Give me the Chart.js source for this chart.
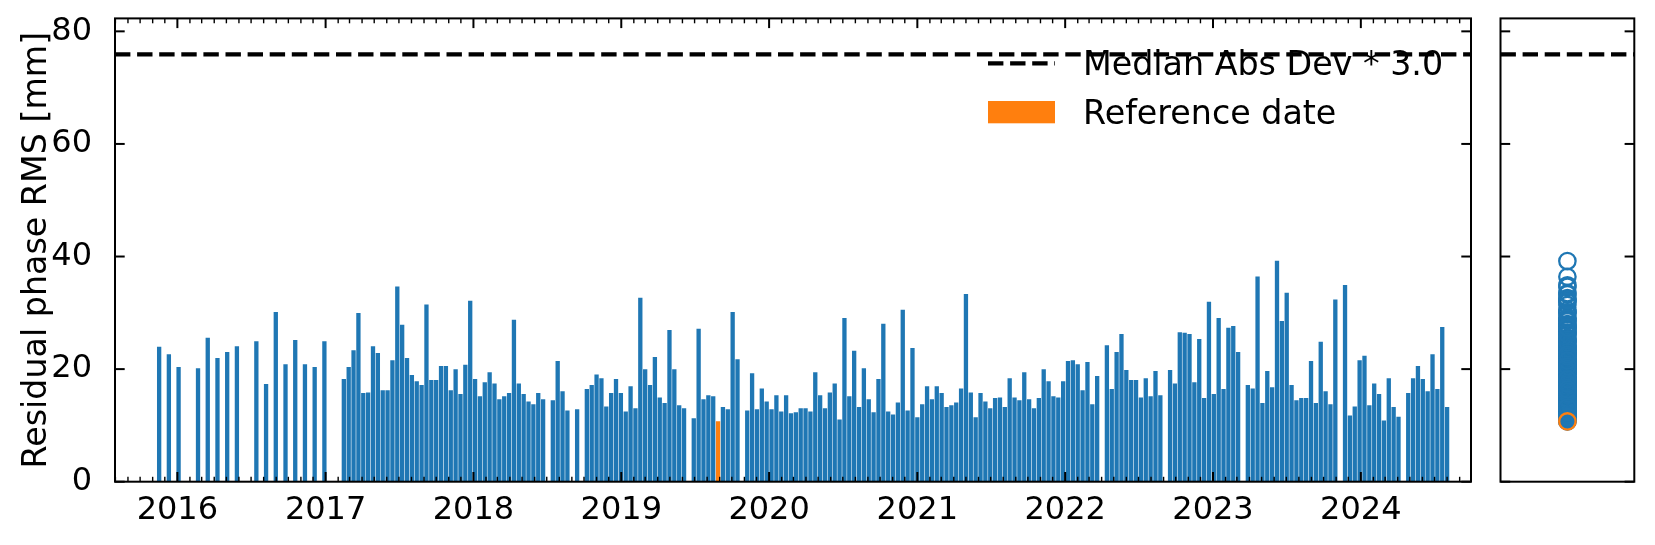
<!DOCTYPE html>
<html>
<head>
<meta charset="utf-8">
<title>Residual phase RMS</title>
<script src="https://cdn.jsdelivr.net/npm/chart.js@4.4.1/dist/chart.umd.min.js"></script>
<style>
  html, body { margin: 0; padding: 0; background: #ffffff; }
  #wrap { position: relative; width: 1655px; height: 545px; }
  #mainBox { position: absolute; left: 0; top: 0; width: 1490px; height: 545px; }
  #sideBox { position: absolute; left: 1490px; top: 0; width: 165px; height: 545px; }
</style>
</head>
<body>
<div id="wrap">
  <div id="mainBox"><canvas id="mainChart"></canvas></div>
  <div id="sideBox"><canvas id="sideChart"></canvas></div>
</div>
<script>
// acquisition dates and residual phase RMS [mm]
const dates = [
    '2015-11-17', '2015-12-11',
    '2016-01-04', '2016-02-21', '2016-03-16', '2016-04-09', '2016-05-03', '2016-05-27', '2016-07-14', '2016-08-07',
    '2016-08-31', '2016-09-24', '2016-10-18', '2016-11-11', '2016-12-05', '2016-12-29',
    '2017-02-15', '2017-02-27', '2017-03-11', '2017-03-23', '2017-04-04', '2017-04-16', '2017-04-28', '2017-05-10',
    '2017-05-22', '2017-06-03', '2017-06-15', '2017-06-27', '2017-07-09', '2017-07-21', '2017-08-02', '2017-08-14',
    '2017-08-26', '2017-09-07', '2017-09-19', '2017-10-01', '2017-10-13', '2017-10-25', '2017-11-06', '2017-11-18',
    '2017-11-30', '2017-12-12', '2017-12-24',
    '2018-01-05', '2018-01-17', '2018-01-29', '2018-02-10', '2018-02-22', '2018-03-06', '2018-03-18', '2018-03-30',
    '2018-04-11', '2018-04-23', '2018-05-05', '2018-05-17', '2018-05-29', '2018-06-10', '2018-06-22', '2018-07-16',
    '2018-07-28', '2018-08-09', '2018-08-21', '2018-09-14', '2018-10-08', '2018-10-20', '2018-11-01', '2018-11-13',
    '2018-11-25', '2018-12-07', '2018-12-19', '2018-12-31',
    '2019-01-12', '2019-01-24', '2019-02-05', '2019-02-17', '2019-03-01', '2019-03-13', '2019-03-25', '2019-04-06',
    '2019-04-18', '2019-04-30', '2019-05-12', '2019-05-24', '2019-06-05', '2019-06-29', '2019-07-11', '2019-07-23',
    '2019-08-04', '2019-08-16', '2019-08-28', '2019-09-09', '2019-09-21', '2019-10-03', '2019-10-15', '2019-11-08',
    '2019-11-20', '2019-12-02', '2019-12-14', '2019-12-26',
    '2020-01-07', '2020-01-19', '2020-01-31', '2020-02-12', '2020-02-24', '2020-03-07', '2020-03-19', '2020-03-31',
    '2020-04-12', '2020-04-24', '2020-05-06', '2020-05-18', '2020-05-30', '2020-06-11', '2020-06-23', '2020-07-05',
    '2020-07-17', '2020-07-29', '2020-08-10', '2020-08-22', '2020-09-03', '2020-09-15', '2020-09-27', '2020-10-09',
    '2020-10-21', '2020-11-02', '2020-11-14', '2020-11-26', '2020-12-08', '2020-12-20',
    '2021-01-01', '2021-01-13', '2021-01-25', '2021-02-06', '2021-02-18', '2021-03-02', '2021-03-14', '2021-03-26',
    '2021-04-07', '2021-04-19', '2021-05-01', '2021-05-13', '2021-05-25', '2021-06-06', '2021-06-18', '2021-06-30',
    '2021-07-12', '2021-07-24', '2021-08-05', '2021-08-17', '2021-08-29', '2021-09-10', '2021-09-22', '2021-10-04',
    '2021-10-16', '2021-10-28', '2021-11-09', '2021-11-21', '2021-12-03', '2021-12-15', '2021-12-27',
    '2022-01-08', '2022-01-20', '2022-02-01', '2022-02-13', '2022-02-25', '2022-03-09', '2022-03-21', '2022-04-14',
    '2022-04-26', '2022-05-08', '2022-05-20', '2022-06-01', '2022-06-13', '2022-06-25', '2022-07-07', '2022-07-19',
    '2022-07-31', '2022-08-12', '2022-08-24', '2022-09-17', '2022-09-29', '2022-10-11', '2022-10-23', '2022-11-04',
    '2022-11-16', '2022-11-28', '2022-12-10', '2022-12-22',
    '2023-01-03', '2023-01-15', '2023-01-27', '2023-02-08', '2023-02-20', '2023-03-04', '2023-03-28', '2023-04-09',
    '2023-04-21', '2023-05-03', '2023-05-15', '2023-05-27', '2023-06-08', '2023-06-20', '2023-07-02', '2023-07-14',
    '2023-07-26', '2023-08-07', '2023-08-19', '2023-08-31', '2023-09-12', '2023-09-24', '2023-10-06', '2023-10-18',
    '2023-10-30', '2023-11-23', '2023-12-05', '2023-12-17', '2023-12-29',
    '2024-01-10', '2024-01-22', '2024-02-03', '2024-02-15', '2024-02-27', '2024-03-10', '2024-03-22', '2024-04-03',
    '2024-04-27', '2024-05-09', '2024-05-21', '2024-06-02', '2024-06-14', '2024-06-26', '2024-07-08', '2024-07-20',
    '2024-08-01'
];

const rms = [
    23.9, 22.6,
    20.3, 20.1, 25.5, 21.9, 23.0, 24.0, 24.9, 17.3, 30.1, 20.8, 25.1, 20.8, 20.3, 24.9,
    18.2, 20.3, 23.3, 29.9, 15.7, 15.8, 24.0, 22.8, 16.2, 16.2, 21.5, 34.6, 27.8, 21.9, 18.9, 17.8,
    17.1, 31.4, 18.0, 18.0, 20.5, 20.5, 16.2, 19.9, 15.5, 20.7, 32.1,
    18.2, 15.1, 17.6, 19.4, 17.4, 14.6, 15.1, 15.7, 28.7, 17.4, 15.5, 14.2, 13.7, 15.7, 14.6, 14.4,
    21.4, 16.0, 12.6, 12.8, 16.4, 17.1, 19.0, 18.3, 13.3, 15.7, 18.2, 15.7,
    12.4, 16.9, 13.0, 32.6, 19.9, 17.1, 22.1, 14.9, 13.9, 26.9, 19.9, 13.5, 13.0, 11.2, 27.1, 14.6,
    15.3, 15.1, 10.7, 13.2, 12.8, 30.1, 21.7, 12.6, 19.2, 12.8, 16.5, 14.2,
    12.8, 15.3, 12.4, 15.3, 12.1, 12.3, 13.0, 13.0, 12.4, 19.4, 15.3, 13.0, 15.8, 17.4, 11.0, 29.0,
    15.1, 23.2, 13.2, 20.1, 14.6, 12.3, 18.2, 28.0, 12.4, 11.9, 14.0, 30.5, 12.6, 23.7,
    11.4, 13.7, 16.9, 14.6, 16.9, 15.7, 13.2, 13.5, 14.0, 16.5, 33.3, 15.8, 11.4, 15.7, 14.2, 13.0,
    14.8, 14.9, 13.2, 18.3, 14.9, 14.4, 19.4, 14.6, 13.0, 14.8, 19.9, 17.8, 15.1, 14.9, 17.8,
    21.4, 21.5, 20.8, 16.2, 21.2, 13.7, 18.7, 24.2, 16.4, 23.0, 26.2, 19.8, 18.0, 18.0, 14.9, 18.3,
    15.1, 19.6, 15.3, 19.8, 17.4, 26.5, 26.4, 26.2, 17.6, 25.3, 14.8, 31.9,
    15.5, 29.0, 16.4, 27.3, 27.6, 23.0, 17.1, 16.5, 36.4, 13.9, 19.6, 16.7, 39.2, 28.5, 33.5, 17.1,
    14.4, 14.8, 14.8, 21.4, 13.9, 24.8, 16.0, 13.7, 32.3, 34.9, 11.7, 13.3, 21.5,
    22.3, 13.5, 17.4, 15.5, 10.8, 18.3, 13.2, 11.5, 15.7, 18.3, 20.5, 18.2, 16.0, 22.6, 16.4, 27.4,
    13.2
];

const referenceDate = '2019-08-28';
const madThreshold = 75.9;      // Median Abs Dev * 3.0
const yearTicks = [2016, 2017, 2018, 2019, 2020, 2021, 2022, 2023, 2024];
const yTicks = [0, 20, 40, 60, 80];
const axisStart = '2015-07-31';
const axisEnd = '2024-09-29';
const yMax = 82.3;

const BLUE = '#1f77b4';
const ORANGE = '#ff7f0e';
const FONT = 'DejaVu Sans';

Chart.defaults.font.family = FONT;
Chart.defaults.color = '#000';

function toDays(s) {
    return Date.parse(s + 'T00:00:00Z') / 86400000;
}

const xMin = toDays(axisStart);
const xMax = toDays(axisEnd);
const refIndex = dates.indexOf(referenceDate);

// matplotlib-like frame: box plus inward ticks
const frameTicks = {
    id: 'frameTicks',
    afterDatasetsDraw(chart, args, opts) {
        const { ctx, chartArea: a, scales } = chart;
        ctx.save();
        ctx.strokeStyle = '#000';
        ctx.lineCap = 'butt';

        function seg(x1, y1, x2, y2) {
            ctx.beginPath();
            ctx.moveTo(x1, y1);
            ctx.lineTo(x2, y2);
            ctx.stroke();
        }

        ctx.lineWidth = 2;
        yTicks.forEach(v => {
            const py = scales.y.getPixelForValue(v);
            seg(a.left, py, a.left + 9.7, py);
            seg(a.right, py, a.right - 9.7, py);
        });

        if (opts.timeTicks) {
            // monthly minor ticks
            ctx.lineWidth = 1.4;
            for (let y = 2015; y <= 2024; y++) {
                for (let m = 0; m < 12; m++) {
                    const d = Date.UTC(y, m, 1) / 86400000;
                    if (d < xMin || d > xMax || m === 0) continue;
                    const px = scales.x.getPixelForValue(d);
                    seg(px, a.bottom, px, a.bottom - 4.9);
                    seg(px, a.top, px, a.top + 4.9);
                }
            }
            ctx.lineWidth = 2;
            yearTicks.forEach(y => {
                const px = scales.x.getPixelForValue(toDays(y + '-01-01'));
                seg(px, a.bottom, px, a.bottom - 9.7);
                seg(px, a.top, px, a.top + 9.7);
            });
        }

        ctx.lineWidth = 2;
        ctx.strokeRect(a.left, a.top, a.right - a.left, a.bottom - a.top);
        ctx.restore();
    }
};

// legend drawn inside the upper right of the plot, no frame
const insideLegend = {
    id: 'insideLegend',
    afterDraw(chart) {
        const { ctx, chartArea: a } = chart;
        const x0 = a.right - 483, x1 = a.right - 416, tx = a.right - 388;
        ctx.save();
        ctx.font = '33.3px "' + FONT + '"';
        ctx.fillStyle = '#000';
        ctx.textBaseline = 'alphabetic';
        ctx.textAlign = 'left';

        ctx.strokeStyle = '#000';
        ctx.lineWidth = 4.2;
        ctx.setLineDash([15.4, 6.7]);
        ctx.beginPath();
        ctx.moveTo(x0, a.top + 45);
        ctx.lineTo(x1, a.top + 45);
        ctx.stroke();
        ctx.setLineDash([]);
        ctx.fillText(chart.data.datasets[0].label, tx, a.top + 56.6);

        ctx.fillStyle = ORANGE;
        ctx.fillRect(x0, a.top + 82.6, x1 - x0, 22.3);
        ctx.fillStyle = '#000';
        ctx.fillText('Reference date', tx, a.top + 105.6);
        ctx.restore();
    }
};

new Chart(document.getElementById('mainChart'), {
    type: 'bar',
    data: {
        datasets: [
            {
                type: 'line',
                label: 'Median Abs Dev * 3.0',
                data: [{ x: xMin, y: madThreshold }, { x: xMax, y: madThreshold }],
                borderColor: '#000',
                borderWidth: 4.2,
                borderDash: [15.4, 6.7],
                borderCapStyle: 'butt',
                pointRadius: 0,
                order: 0
            },
            {
                type: 'bar',
                label: 'Residual phase RMS',
                data: dates.map((d, i) => ({ x: toDays(d), y: rms[i] })),
                backgroundColor: dates.map(d => d === referenceDate ? ORANGE : BLUE),
                barThickness: 3.65,
                borderWidth: 0,
                order: 1
            }
        ]
    },
    options: {
        responsive: true,
        maintainAspectRatio: false,
        animation: false,
        layout: { padding: { left: 0, right: 19, top: 18.4, bottom: 0 } },
        plugins: {
            legend: { display: false },
            tooltip: { enabled: false },
            frameTicks: { timeTicks: true }
        },
        scales: {
            x: {
                type: 'linear',
                min: xMin,
                max: xMax,
                offset: false,
                grid: { display: false },
                border: { display: false },
                afterBuildTicks: scale => {
                    scale.ticks = yearTicks.map(y => ({ value: toDays(y + '-01-01') }));
                },
                afterFit: scale => {
                    scale.height = 63.3;
                    scale.paddingLeft = 0;
                    scale.paddingRight = 0;
                },
                ticks: {
                    autoSkip: false,
                    maxRotation: 0,
                    padding: 2,
                    font: { size: 32 },
                    color: '#000',
                    callback: v => String(new Date(v * 86400000).getUTCFullYear())
                }
            },
            y: {
                min: 0,
                max: yMax,
                grid: { display: false },
                border: { display: false },
                afterBuildTicks: scale => {
                    scale.ticks = yTicks.map(v => ({ value: v }));
                },
                afterFit: scale => {
                    scale.width = 115;
                    scale.paddingTop = 0;
                    scale.paddingBottom = 0;
                },
                ticks: { padding: 15, font: { size: 32 }, color: '#000' },
                title: {
                    display: true,
                    text: 'Residual phase RMS [mm]',
                    font: { size: 33.3, lineHeight: 1.2 },
                    color: '#000',
                    padding: { top: 17, bottom: 0 }
                }
            }
        }
    },
    plugins: [frameTicks, insideLegend]
});

new Chart(document.getElementById('sideChart'), {
    type: 'scatter',
    data: {
        datasets: [
            {
                label: 'Reference date',
                data: [{ x: 0, y: rms[refIndex] }],
                backgroundColor: 'rgba(0,0,0,0)',
                borderColor: ORANGE,
                pointRadius: 8.2,
                borderWidth: 2.3,
                order: 0
            },
            {
                label: 'Residual phase RMS',
                data: rms.map(v => ({ x: 0, y: v })),
                backgroundColor: 'rgba(0,0,0,0)',
                borderColor: BLUE,
                pointRadius: 8.2,
                borderWidth: 2.3,
                order: 1
            },
            {
                type: 'line',
                label: 'Median Abs Dev * 3.0',
                data: [{ x: -1, y: madThreshold }, { x: 1, y: madThreshold }],
                borderColor: '#000',
                borderWidth: 4.2,
                borderDash: [15.4, 6.7],
                borderCapStyle: 'butt',
                pointRadius: 0,
                showLine: true,
                order: 2
            }
        ]
    },
    options: {
        responsive: true,
        maintainAspectRatio: false,
        animation: false,
        layout: { padding: { left: 9, right: 20.7, top: 18.4, bottom: 63.3 } },
        plugins: {
            legend: { display: false },
            tooltip: { enabled: false },
            frameTicks: { timeTicks: false }
        },
        scales: {
            x: { type: 'linear', min: -1, max: 1, display: false },
            y: { min: 0, max: yMax, display: false }
        }
    },
    plugins: [frameTicks]
});
</script>
</body>
</html>
